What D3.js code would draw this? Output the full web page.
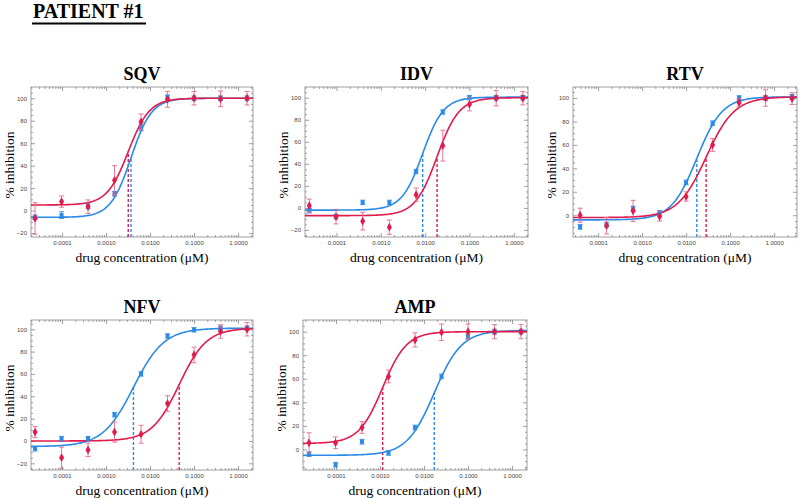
<!DOCTYPE html>
<meta charset="utf-8">
<style>
  body { margin: 0; background: #fff; }
  svg { display: block; }
</style>
<svg width="800" height="498"></svg>
<script src="https://cdn.jsdelivr.net/npm/d3@7"></script>
<script>
// drug concentrations (uM), 4-fold dilutions
var concA   = [0.0000244, 0.0000977, 0.00039, 0.00156, 0.00625, 0.025, 0.1, 0.4, 1.6];
var concRTV = [0.000039, 0.000156, 0.000625, 0.0025, 0.01, 0.04, 0.16, 0.64, 2.56];

var panelNames = ["SQV", "IDV", "RTV", "NFV", "AMP"];
var majorTicks = [0.0001, 0.001, 0.01, 0.1, 1];

// % inhibition, red = patient isolate, blue = reference
var sqvRed     = [-7, 8, 3.5, 27, 79, 99, 100, 99.5, 100];
var sqvRedErr  = [14, 5, 6, 13, 7, 7, 6, 7, 6];
var sqvBlue    = [-6, -4, 4, 15, 74, 101, 100, 100, 100];
var sqvBlueErr = [2, 3, 2, 2, 3, 2, 2, 2, 2];

var idvRed     = [2, -8, -12, -17.5, 12, 56.5, 94, 99.5, 99.5];
var idvRedErr  = [6, 6.5, 8, 6.5, 6, 14, 6, 7, 6];
var idvBlue    = [-2.5, -8, 5, 5, 33, 87, 100, 100, 100];
var idvBlueErr = [2, 2, 2, 2, 2, 2, 2, 2, 2];

var rtvRed     = [0, -9, 3.7, -1, 16, 60, 96, 100, 99.5];
var rtvRedErr  = [6, 7, 9, 4, 4, 5.5, 3.5, 7, 5];
var rtvBlue    = [-10, -8, 5.7, 2, 28, 78.5, 100, 100, 101];
var rtvBlueErr = [2, 2, 2, 2, 2, 2, 2, 2, 2];

var nfvRed     = [8, -15, -8, 8, 6, 33.5, 77, 98, 100];
var nfvRedErr  = [5, 9.5, 6, 9, 8, 7, 7, 6, 6];
var nfvBlue    = [-7, 2, 2, 23.5, 60, 94, 99.5, 101, 101];
var nfvBlueErr = [2, 2, 2, 2, 2, 2, 2, 2, 2];

var ampRed     = [5.6, 5.6, 18.6, 62, 93, 99.5, 100, 100, 100];
var ampRedErr  = [8.5, 5, 5, 5.5, 6, 7, 6.5, 6, 6];
var ampBlue    = [-4, -13, 6.5, -3, 18.6, 62, 96, 100, 100];
var ampBlueErr = [2, 2, 2, 2, 2, 2, 2, 2, 2];

// fitted curves: [bottom, top, IC50, hill]
var sqvFitRed = [5, 100, 0.0032, 1.8],   sqvFitBlue = [-6, 100, 0.0037, 1.85];
var idvFitRed = [-7, 100, 0.0186, 1.75], idvFitBlue = [-2, 100.5, 0.0088, 1.85];
var rtvFitRed = [-2, 101, 0.0285, 1.35], rtvFitBlue = [-4, 101, 0.0175, 1.5];
var nfvFitRed = [0, 101, 0.046, 1.4],    nfvFitBlue = [-5, 101, 0.0042, 1.25];
var ampFitRed = [5, 100, 0.00115, 1.6],  ampFitBlue = [-5, 101, 0.0171, 1.4];

var panels = {
  SQV: {conc: concA,   red: sqvRed, redErr: sqvRedErr, blue: sqvBlue, blueErr: sqvBlueErr, fitRed: sqvFitRed, fitBlue: sqvFitBlue,
        box: [31, 87, 253, 237],  xlog: [-4.705, 0.34], ydom: [-23.5, 110]},
  IDV: {conc: concA,   red: idvRed, redErr: idvRedErr, blue: idvBlue, blueErr: idvBlueErr, fitRed: idvFitRed, fitBlue: idvFitBlue,
        box: [305, 87, 528, 237], xlog: [-4.71, 0.32],  ydom: [-26.4, 109.7]},
  RTV: {conc: concRTV, red: rtvRed, redErr: rtvRedErr, blue: rtvBlue, blueErr: rtvBlueErr, fitRed: rtvFitRed, fitBlue: rtvFitBlue,
        box: [573, 87, 797, 237], xlog: [-4.57, 0.52],  ydom: [-18.6, 109.4]},
  NFV: {conc: concA,   red: nfvRed, redErr: nfvRedErr, blue: nfvBlue, blueErr: nfvBlueErr, fitRed: nfvFitRed, fitBlue: nfvFitBlue,
        box: [31, 320, 253, 470], xlog: [-4.705, 0.34], ydom: [-26, 108.3]},
  AMP: {conc: concA,   red: ampRed, redErr: ampRedErr, blue: ampBlue, blueErr: ampBlueErr, fitRed: ampFitRed, fitBlue: ampFitBlue,
        box: [303, 320, 527, 470], xlog: [-4.75, 0.34],  ydom: [-17.5, 109.9]}
};

var RED = "#e01c4c", RED_ERR = "#e8688a", BLUE = "#2a8ae6";
var SERIF = "'Liberation Serif', 'Times New Roman', 'DejaVu Serif', serif";

var svg = d3.select("svg");

// header
svg.append("text").attr("x", 33).attr("y", 18)
  .style("font-family", SERIF)
  .style("font-weight", "bold").style("font-size", "20px")
  .text("PATIENT #1");
svg.append("line").attr("x1", 32).attr("x2", 146).attr("y1", 23.5).attr("y2", 23.5)
  .attr("stroke", "#000").attr("stroke-width", 2);

function logistic(p, x) {
  return p[0] + (p[1] - p[0]) / (1 + Math.pow(p[2] / x, p[3]));
}

panelNames.forEach(function(name) {
  var p = panels[name],
      x0 = p.box[0], y0 = p.box[1], w = p.box[2] - p.box[0], h = p.box[3] - p.box[1];

  var x = d3.scaleLog().domain([Math.pow(10, p.xlog[0]), Math.pow(10, p.xlog[1])]).range([0, w]);
  var y = d3.scaleLinear().domain(p.ydom).range([h, 0]);

  var g = svg.append("g").attr("transform", "translate(" + x0 + "," + y0 + ")");

  // title
  g.append("text").attr("x", w / 2).attr("y", -7).attr("text-anchor", "middle")
    .style("font-family", SERIF)
    .style("font-weight", "bold").style("font-size", "18px")
    .text(name);

  g.append("rect").attr("width", w).attr("height", h).attr("fill", "#fff");

  // minor ticks
  var minors = [];
  for (var e = -6; e <= 1; e++) for (var m = 2; m <= 9; m++) {
    var v = m * Math.pow(10, e);
    if (v > x.domain()[0] && v < x.domain()[1]) minors.push(v);
  }
  var yMinor = d3.range(-25, 111, 5).filter(function(v) { return v > p.ydom[0] && v < p.ydom[1] && v % 20 !== 0; });
  var yMajor = d3.range(-20, 101, 20).filter(function(v) { return v > p.ydom[0] && v < p.ydom[1]; });

  function style(a) {
    a.select(".domain").remove();
    a.selectAll("line").attr("stroke", "#777").attr("stroke-width", 0.7);
    a.selectAll("text").style("font-family", "'Liberation Sans', Arial, sans-serif")
      .style("font-size", "6px").attr("fill", "#444");
  }

  g.append("g").attr("transform", "translate(0," + h + ")")
    .call(d3.axisBottom(x).tickValues(majorTicks).tickFormat(d3.format(".4f")).tickSize(-4).tickPadding(4))
    .call(style);
  g.append("g").attr("transform", "translate(0," + h + ")")
    .call(d3.axisBottom(x).tickValues(minors).tickFormat("").tickSize(-2)).call(style);
  g.append("g")
    .call(d3.axisTop(x).tickValues(majorTicks).tickFormat("").tickSize(-4)).call(style);
  g.append("g")
    .call(d3.axisTop(x).tickValues(minors).tickFormat("").tickSize(-2)).call(style);

  g.append("g")
    .call(d3.axisLeft(y).tickValues(yMajor).tickSize(-4).tickPadding(4)).call(style);
  g.append("g")
    .call(d3.axisLeft(y).tickValues(yMinor).tickFormat("").tickSize(-2)).call(style);
  g.append("g").attr("transform", "translate(" + w + ",0)")
    .call(d3.axisRight(y).tickValues(yMajor).tickFormat("").tickSize(-4)).call(style);
  g.append("g").attr("transform", "translate(" + w + ",0)")
    .call(d3.axisRight(y).tickValues(yMinor).tickFormat("").tickSize(-2)).call(style);

  g.append("rect").attr("width", w).attr("height", h)
    .attr("fill", "none").attr("stroke", "#888").attr("stroke-width", 0.8);

  // axis titles
  g.append("text").attr("x", w / 2).attr("y", h + 25).attr("text-anchor", "middle")
    .style("font-family", SERIF).style("font-size", "13.5px")
    .text("drug concentration (\u03bcM)");
  g.append("text").attr("transform", "translate(-17," + (h / 2 + 3) + ") rotate(-90)")
    .attr("text-anchor", "middle")
    .style("font-family", SERIF).style("font-size", "13.5px")
    .text("% inhibition");

  var plot = g.append("g");
  var xs = d3.range(0, 201).map(function(i) {
    return Math.pow(10, p.xlog[0] + (p.xlog[1] - p.xlog[0]) * i / 200);
  });
  var line = function(fit) {
    return d3.line().x(function(d) { return x(d); }).y(function(d) { return y(logistic(fit, d)); })(xs);
  };

  // IC50 dashed drops
  [[p.fitBlue, BLUE], [p.fitRed, RED]].forEach(function(f) {
    plot.append("line")
      .attr("x1", x(f[0][2])).attr("x2", x(f[0][2]))
      .attr("y1", h).attr("y2", y(logistic(f[0], f[0][2])))
      .attr("stroke", f[1]).attr("stroke-width", 1.4).attr("stroke-dasharray", "3,2");
  });

  plot.append("path").attr("d", line(p.fitBlue)).attr("fill", "none").attr("stroke", BLUE).attr("stroke-width", 1.6);
  plot.append("path").attr("d", line(p.fitRed)).attr("fill", "none").attr("stroke", RED).attr("stroke-width", 1.6);

  function points(vals, errs, col, errCol, sym, size) {
    var pg = plot.append("g");
    vals.forEach(function(v, i) {
      var cx = x(p.conc[i]);
      var lo = y(v - errs[i]), hi = y(v + errs[i]);
      pg.append("line").attr("x1", cx).attr("x2", cx).attr("y1", lo).attr("y2", hi)
        .attr("stroke", errCol).attr("stroke-width", 0.9);
      [lo, hi].forEach(function(yy) {
        pg.append("line").attr("x1", cx - 2.5).attr("x2", cx + 2.5).attr("y1", yy).attr("y2", yy)
          .attr("stroke", errCol).attr("stroke-width", 0.9);
      });
      pg.append("path").attr("transform", "translate(" + cx + "," + y(v) + ")")
        .attr("d", d3.symbol().type(sym).size(size)()).attr("fill", col);
    });
  }
  points(p.blue, p.blueErr, BLUE, BLUE, d3.symbolSquare, 16);
  points(p.red, p.redErr, RED, RED_ERR, d3.symbolDiamond, 22);
});
</script>
